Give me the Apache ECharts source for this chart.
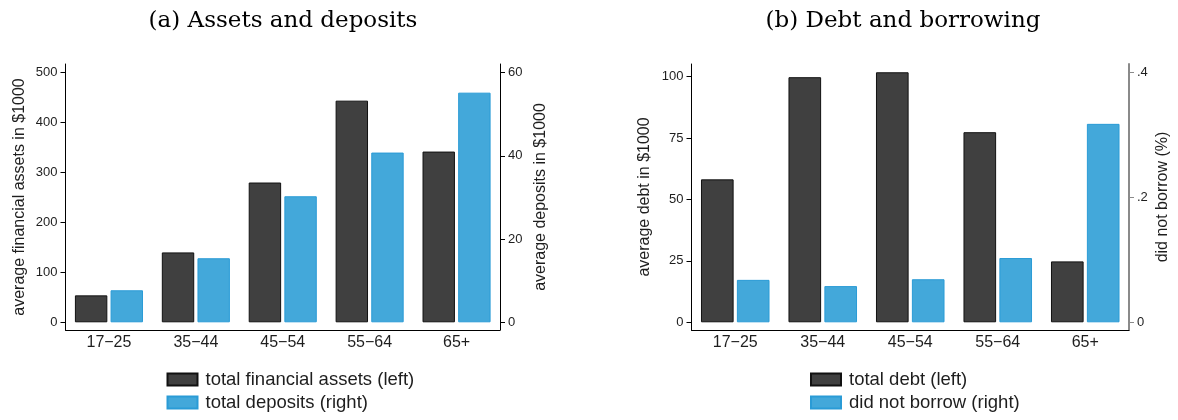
<!DOCTYPE html>
<html>
<head>
<meta charset="utf-8">
<script src="https://cdn.jsdelivr.net/npm/echarts@6/dist/echarts.min.js"></script>
<style>
  html, body { margin: 0; padding: 0; background: #fff; }
  #chart { width: 1178px; height: 420px; }
</style>
</head>
<body>
<div id="chart"></div>
<script>
// Age groups shared by both panels
const ageGroups = ['17\u221225', '35\u221244', '45\u221254', '55\u221264', '65+'];

// Panel (a): assets (left axis) and deposits (right axis), in $1000
const financialAssets = [54, 140, 280, 444, 342];
const deposits = [7.7, 15.4, 30.3, 40.8, 55.2];

// Panel (b): debt (left axis, $1000) and share that did not borrow (right axis)
const totalDebt = [58.2, 99.8, 101.8, 77.4, 24.8];
const didNotBorrow = [0.068, 0.058, 0.069, 0.103, 0.318];

// Tick labels
const assetTicks = [0, 100, 200, 300, 400, 500];
const depositTicks = [0, 20, 40, 60];
const debtTicks = [0, 25, 50, 75, 100];
const borrowTicks = [0, 0.2, 0.4];

const ink = '#1e1e1e';
const darkFill = '#404040', darkEdge = '#111111';
const blueFill = '#43a8da', blueEdge = '#2a9bd6';
const sans = 'Liberation Sans';

function valueAxis(opts) {
  return Object.assign({
    type: 'value',
    nameLocation: 'middle',
    nameRotate: 90,
    nameTextStyle: { fontFamily: sans, fontSize: 16, color: ink },
    splitLine: { show: false },
    axisLine: { show: true, onZero: false, lineStyle: { color: '#000', width: 1 } }
  }, opts);
}

function ticksAt(values, color) {
  return { show: true, length: 5, customValues: values, lineStyle: { color: color || '#000' } };
}

function labelsAt(values, formatter) {
  const l = { fontFamily: sans, fontSize: 13, color: ink, margin: 8, customValues: values };
  if (formatter) l.formatter = formatter;
  return l;
}

function catAxis(gridIndex) {
  return {
    type: 'category',
    gridIndex: gridIndex,
    data: ageGroups,
    boundaryGap: true,
    axisLine: { onZero: false, lineStyle: { color: '#000', width: 1 } },
    axisTick: { alignWithLabel: true, length: 5, lineStyle: { color: '#000' } },
    axisLabel: { fontFamily: sans, fontSize: 16, color: ink, margin: 5 }
  };
}

function barSeries(name, data, xi, yi, fill, edge) {
  return {
    name: name,
    type: 'bar',
    xAxisIndex: xi,
    yAxisIndex: yi,
    data: data,
    barWidth: '37.3%',
    barGap: '10%',
    itemStyle: { color: fill, borderColor: edge, borderWidth: 1 },
    emphasis: { disabled: true }
  };
}

// One legend entry per box so the keys stack vertically under each panel
function legendItem(name, left, top) {
  return {
    data: [name],
    left: left, top: top,
    itemWidth: 30, itemHeight: 12,
    icon: 'rect', selectedMode: false,
    textStyle: { fontFamily: sans, fontSize: 18.5, color: ink, padding: [0, 0, 0, 3] }
  };
}

const chart = echarts.init(document.getElementById('chart'), null, { renderer: 'canvas' });

chart.setOption({
  animation: false,
  backgroundColor: '#fff',
  title: [
    { text: '(a) Assets and deposits', left: 278, top: 5, textAlign: 'center',
      textStyle: { fontFamily: 'DejaVu Serif', fontSize: 23, fontWeight: 'normal', color: '#000' } },
    { text: '(b) Debt and borrowing', left: 898, top: 5, textAlign: 'center',
      textStyle: { fontFamily: 'DejaVu Serif', fontSize: 23, fontWeight: 'normal', color: '#000' } }
  ],
  grid: [
    { left: 65.5, top: 64, width: 434.5, height: 266 },
    { left: 691.5, top: 64, width: 437.5, height: 266 }
  ],
  xAxis: [catAxis(0), catAxis(1)],
  yAxis: [
    valueAxis({
      gridIndex: 0, position: 'left', min: -15.4, max: 517.4,
      name: 'average financial assets in $1000', nameGap: 38,
      axisTick: ticksAt(assetTicks), axisLabel: labelsAt(assetTicks)
    }),
    valueAxis({
      gridIndex: 0, position: 'right', min: -1.85, max: 62.09,
      name: 'average deposits in $1000', nameGap: 33,
      axisTick: ticksAt(depositTicks), axisLabel: labelsAt(depositTicks)
    }),
    valueAxis({
      gridIndex: 1, position: 'left', min: -3.14, max: 105.17,
      name: 'average debt in $1000', nameGap: 39,
      axisTick: ticksAt(debtTicks), axisLabel: labelsAt(debtTicks)
    }),
    valueAxis({
      gridIndex: 1, position: 'right', min: -0.01234, max: 0.4139,
      name: 'did not borrow (%)', nameGap: 25.5,
      axisLine: { show: true, onZero: false, lineStyle: { color: '#8a8a8a', width: 2 } },
      axisTick: ticksAt(borrowTicks, '#8a8a8a'),
      axisLabel: labelsAt(borrowTicks,
        v => (v === 0 ? '0' : String(+v.toFixed(1)).replace(/^0\./, '.')))
    })
  ],
  legend: [
    legendItem('total financial assets (left)', 161.5, 365),
    legendItem('total deposits (right)', 161.5, 388),
    legendItem('total debt (left)', 805, 365),
    legendItem('did not borrow (right)', 805, 388)
  ],
  series: [
    barSeries('total financial assets (left)', financialAssets, 0, 0, darkFill, darkEdge),
    barSeries('total deposits (right)', deposits, 0, 1, blueFill, blueEdge),
    barSeries('total debt (left)', totalDebt, 1, 2, darkFill, darkEdge),
    barSeries('did not borrow (right)', didNotBorrow, 1, 3, blueFill, blueEdge)
  ]
});
</script>
</body>
</html>
